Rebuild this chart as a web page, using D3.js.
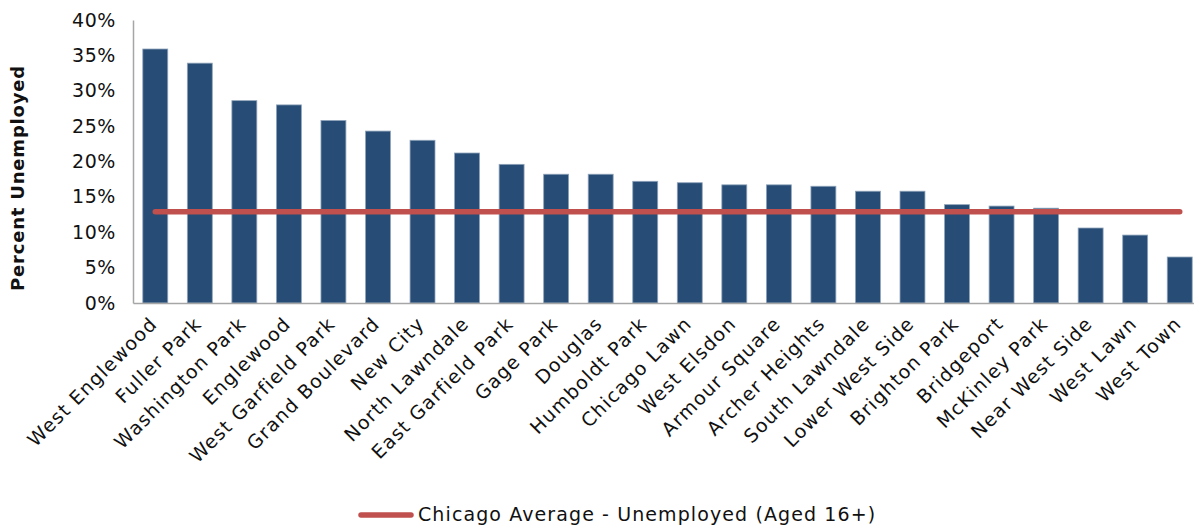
<!DOCTYPE html>
<html><head><meta charset="utf-8">
<script src="https://cdn.jsdelivr.net/npm/d3@7"></script>
<style>body{margin:0;background:#fff}svg{display:block}text{font-family:"DejaVu Sans",sans-serif;fill:#111}</style>
</head><body><svg id="c" width="1194" height="527"></svg>
<script>
const categories = ["West Englewood","Fuller Park","Washington Park","Englewood","West Garfield Park","Grand Boulevard","New City","North Lawndale","East Garfield Park","Gage Park","Douglas","Humboldt Park","Chicago Lawn","West Elsdon","Armour Square","Archer Heights","South Lawndale","Lower West Side","Brighton Park","Bridgeport","McKinley Park","Near West Side","West Lawn","West Town"];
const unemployed = [35.9,33.9,28.6,28.0,25.8,24.3,23.0,21.2,19.6,18.2,18.2,17.2,17.0,16.7,16.7,16.5,15.8,15.8,13.9,13.7,13.4,10.6,9.6,6.5];
const chicagoAverage = 12.9;
const yTicks = [0,5,10,15,20,25,30,35,40];
const legendLabel = "Chicago Average - Unemployed (Aged 16+)";
const yTitle = "Percent Unemployed";

const svg = d3.select("#c");
const mLeft = 133, mRight = 1202, mTop = 20, mBottom = 303;
const x = d3.scaleBand().domain(categories).range([mLeft, mRight]).paddingInner(0.44).paddingOuter(0.22);
const y = d3.scaleLinear().domain([0, 40]).range([mBottom, mTop]);

svg.append("g").selectAll("rect").data(categories).join("rect")
  .attr("x", d => x(d)).attr("width", x.bandwidth())
  .attr("y", (d,i) => y(unemployed[i])).attr("height", (d,i) => y(0) - y(unemployed[i]))
  .attr("fill", "#274D76").attr("stroke", "#8FA3BA").attr("stroke-width", 0.8);

// axes
const ya = svg.append("g").attr("transform", `translate(${mLeft},0)`)
  .call(d3.axisLeft(y).tickValues(yTicks).tickFormat(d => d + "%").tickSize(0).tickPadding(17));
ya.select(".domain").attr("stroke", "#A6A6A6").attr("stroke-width", 1.5);
ya.selectAll("text").style("font-size", "19px").style("letter-spacing", "0.6px").style("font-family", "DejaVu Sans").attr("fill", "#111");

const xa = svg.append("g").attr("transform", `translate(0,${mBottom})`)
  .call(d3.axisBottom(x).tickSize(0).tickSizeOuter(0));
xa.select(".domain").attr("stroke", "#A6A6A6").attr("stroke-width", 1.5);
xa.selectAll("text").style("font-size", "19px").style("letter-spacing", "1.2px").style("font-family", "DejaVu Sans").attr("fill", "#111")
  .attr("text-anchor", "end").attr("dy", 0).attr("y", 0)
  .attr("transform", "translate(3,22) rotate(-45)");

// average line
const line = d3.line().x(d => x(d) + x.bandwidth()/2).y(() => y(chicagoAverage));
svg.append("path").datum([categories[0], categories[categories.length-1]])
  .attr("d", line).attr("stroke", "#C0504D").attr("stroke-width", 5.5).attr("stroke-linecap", "round").attr("fill", "none");

// y title
svg.append("text").attr("transform", "translate(24,178) rotate(-90)").attr("text-anchor", "middle")
  .style("font-size", "18px").style("letter-spacing", "0.8px").style("font-weight", "bold").text(yTitle);

// legend
svg.append("line").attr("x1", 361).attr("x2", 411).attr("y1", 515).attr("y2", 515)
  .attr("stroke", "#C0504D").attr("stroke-width", 5.5).attr("stroke-linecap", "round");
svg.append("text").attr("x", 418).attr("y", 521).style("font-size", "19px").style("letter-spacing", "1.1px").text(legendLabel);
</script></body></html>
